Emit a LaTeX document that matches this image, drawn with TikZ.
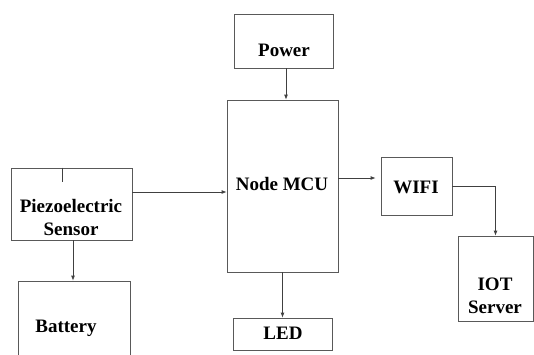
\documentclass[tikz,border=0pt]{standalone}
\usepackage{fontspec}
\setmainfont{Liberation Serif}[BoldFont={Liberation Serif Bold}]
\newfontfamily\lblfont{Liberation Serif Bold}
\usetikzlibrary{arrows.meta,calc}
\begin{document}
\begin{tikzpicture}[x=1pt,y=-1pt,
  box/.style={draw=black!65, line width=0.8pt, inner sep=0pt},
  lbl/.style={font=\lblfont\fontsize{19}{23}\selectfont, align=center, inner sep=0pt},
  wire/.style={draw=black!75, line width=0.8pt},
  conn/.style={wire, -{Latex[length=5pt,width=4pt]}}]
\useasboundingbox (0,0) rectangle (534,354);
% boxes
\node[box, minimum width=99pt, minimum height=54pt] (power) at (283.5,41) {};
\node[box, minimum width=111pt, minimum height=172pt] (mcu) at (282.5,186) {};
\node[box, minimum width=121pt, minimum height=72pt] (piezo) at (71.5,204) {};
\node[box, minimum width=112pt, minimum height=99pt] (battery) at (74,330.5) {};
\node[box, minimum width=99pt, minimum height=32pt] (led) at (282.5,334) {};
\node[box, minimum width=71pt, minimum height=58pt] (wifi) at (416.5,186) {};
\node[box, minimum width=75pt, minimum height=85pt] (iot) at (495.5,278.5) {};
% labels
\node[lbl] (powerT) at (284,50) {Power};
\node[lbl] (mcuT) at (282,184) {Node MCU};
\node[lbl] (piezoT) at (71,217) {Piezoelectric\\Sensor};
\node[lbl] (batteryT) at (66,328) {Battery};
\node[lbl] (ledT) at (283,333) {LED};
\node[lbl] (wifiT) at (416,187) {WIFI};
\node[lbl] (iotT) at (495,296) {IOT\\Server};
% small tick on sensor box
\coordinate (tick) at ($(piezo.north west)+(52,0)$);
\draw[wire] (tick) -- ++(0,14);
% connectors
\coordinate (pw) at ([xshift=2.5pt]power.south);
\draw[conn] (pw) -- (pw |- mcu.north);
\coordinate (p1) at ([yshift=12pt]piezo.east);
\draw[conn] (p1) -- (p1 -| mcu.west);
\coordinate (p2) at ([xshift=1.5pt]piezo.south);
\draw[conn] (p2) -- (p2 |- battery.north);
\draw[conn] (mcu.south) -- (led.north);
\coordinate (m1) at ([yshift=8pt]mcu.east);
\draw[conn, shorten >=5pt] (m1) -- (m1 -| wifi.west);
\draw[conn] (wifi.east) -| (iot.north);
\end{tikzpicture}
\end{document}
